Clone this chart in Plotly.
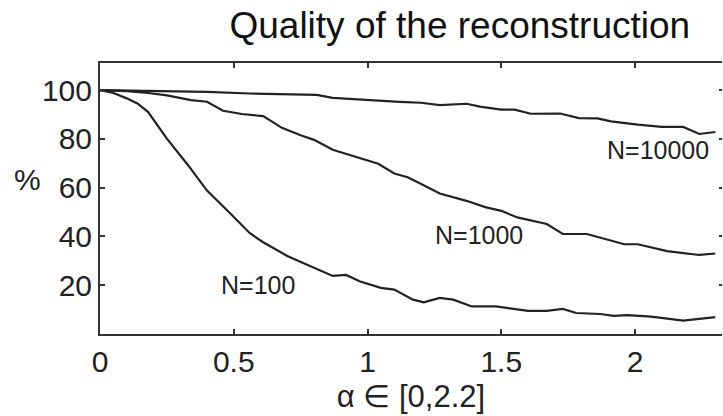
import plotly.graph_objects as go

# Reconstruction quality (%) versus alpha, for three sample sizes N
alpha_n10000 = [0.00, 0.20, 0.40, 0.56, 0.70, 0.81, 0.87, 0.95, 1.05, 1.12, 1.20, 1.27, 1.37,
                1.42, 1.50, 1.55, 1.61, 1.72, 1.79, 1.86, 1.91, 2.01, 2.10, 2.18, 2.24, 2.30]
quality_n10000 = [100.0, 99.7, 99.3, 98.6, 98.3, 98.0, 96.8, 96.2, 95.6, 95.2, 94.8, 93.8, 94.4,
                  93.2, 92.0, 92.0, 90.3, 90.4, 88.5, 88.4, 87.2, 85.8, 84.9, 84.9, 82.0, 82.8]

alpha_n1000 = [0.00, 0.10, 0.18, 0.25, 0.34, 0.40, 0.46, 0.53, 0.61, 0.68, 0.75, 0.80, 0.87,
               0.96, 1.04, 1.10, 1.15, 1.21, 1.27, 1.37, 1.44, 1.50, 1.56, 1.67, 1.73, 1.82,
               1.90, 1.96, 2.01, 2.12, 2.24, 2.30]
quality_n1000 = [100.0, 99.6, 98.8, 97.8, 95.9, 95.2, 91.5, 90.2, 89.3, 84.5, 81.5, 79.6, 75.5,
                 72.5, 69.8, 65.8, 64.3, 61.0, 57.6, 54.6, 52.0, 50.5, 47.8, 45.1, 41.0, 41.0,
                 38.5, 36.8, 36.8, 34.0, 32.4, 33.0]

alpha_n100 = [0.00, 0.05, 0.10, 0.14, 0.18, 0.25, 0.33, 0.40, 0.49, 0.56, 0.61, 0.70, 0.77,
              0.87, 0.92, 0.97, 1.05, 1.10, 1.17, 1.21, 1.27, 1.32, 1.39, 1.48, 1.60, 1.67,
              1.73, 1.78, 1.87, 1.92, 1.97, 2.06, 2.18, 2.30]
quality_n100 = [100.0, 98.8, 96.6, 94.5, 91.0, 80.1, 69.1, 58.8, 49.1, 41.3, 37.6, 32.0, 28.6,
                23.8, 24.2, 21.6, 18.9, 18.2, 14.1, 13.0, 14.8, 14.1, 11.3, 11.3, 9.5, 9.5,
                10.3, 8.6, 8.2, 7.4, 7.7, 7.1, 5.5, 6.9]

series_labels = ["N=10000", "N=1000", "N=100"]
label_alpha = [2.086, 1.415, 0.59]
label_quality = [75.5, 40.6, 20.0]

x_ticks = [0, 0.5, 1, 1.5, 2]
x_tick_text = ["0", "0.5", "1", "1.5", "2"]
y_ticks = [20, 40, 60, 80, 100]
y_tick_text = ["20", "40", "60", "80", "100"]

FONT = "Liberation Sans, Arial, Helvetica, sans-serif"
INK = "#222222"
AXIS = "#333333"

fig = go.Figure()
for xs, ys, name in [(alpha_n10000, quality_n10000, series_labels[0]),
                     (alpha_n1000, quality_n1000, series_labels[1]),
                     (alpha_n100, quality_n100, series_labels[2])]:
    fig.add_trace(go.Scatter(x=xs, y=ys, mode="lines", name=name,
                             line=dict(color=INK, width=2.2), showlegend=False))

# Invisible trace so the right-hand tick axis is drawn
fig.add_trace(go.Scatter(x=[None], y=[None], yaxis="y2", showlegend=False,
                         hoverinfo="skip"))

for name, ax, ay in zip(series_labels, label_alpha, label_quality):
    fig.add_annotation(x=ax, y=ay, xref="x", yref="y", text=name, showarrow=False,
                       font=dict(family=FONT, size=25, color=INK),
                       xanchor="center", yanchor="middle")

# "%" label beside the y axis
fig.add_annotation(x=-0.117, y=0.57, xref="paper", yref="paper", text="%",
                   showarrow=False, font=dict(family=FONT, size=30, color=INK),
                   xanchor="center", yanchor="middle")

x_range = [0, 2.325]
y_range = [0, 111.1]

fig.update_layout(
    width=723, height=416,
    margin=dict(l=100, r=1, t=63, b=82),
    paper_bgcolor="white", plot_bgcolor="white",
    title=dict(text="Quality of the reconstruction", x=0.636, xanchor="center",
               y=0.94, yanchor="middle", yref="container",
               font=dict(family=FONT, size=37, color="#111111")),
    xaxis=dict(range=x_range, tickvals=x_ticks, ticktext=x_tick_text,
               ticks="inside", ticklen=5, tickwidth=2, tickcolor=AXIS,
               showline=True, linecolor=AXIS, linewidth=2, mirror="ticks",
               showgrid=False, zeroline=False,
               tickfont=dict(family=FONT, size=30, color=INK),
               title=dict(text="α ∈ [0,2.2]", standoff=8,
                          font=dict(family=FONT, size=31, color=INK))),
    yaxis=dict(range=y_range, tickvals=y_ticks, ticktext=y_tick_text,
               ticks="inside", ticklen=5, tickwidth=2, tickcolor=AXIS,
               showline=True, linecolor=AXIS, linewidth=2,
               showgrid=False, zeroline=False,
               tickfont=dict(family=FONT, size=30, color=INK)),
    yaxis2=dict(range=y_range, tickvals=y_ticks, overlaying="y", side="right",
                ticks="inside", ticklen=3, tickwidth=2, tickcolor=AXIS,
                showline=False, showgrid=False, zeroline=False, showticklabels=False),
)

fig.write_html("out.html")
